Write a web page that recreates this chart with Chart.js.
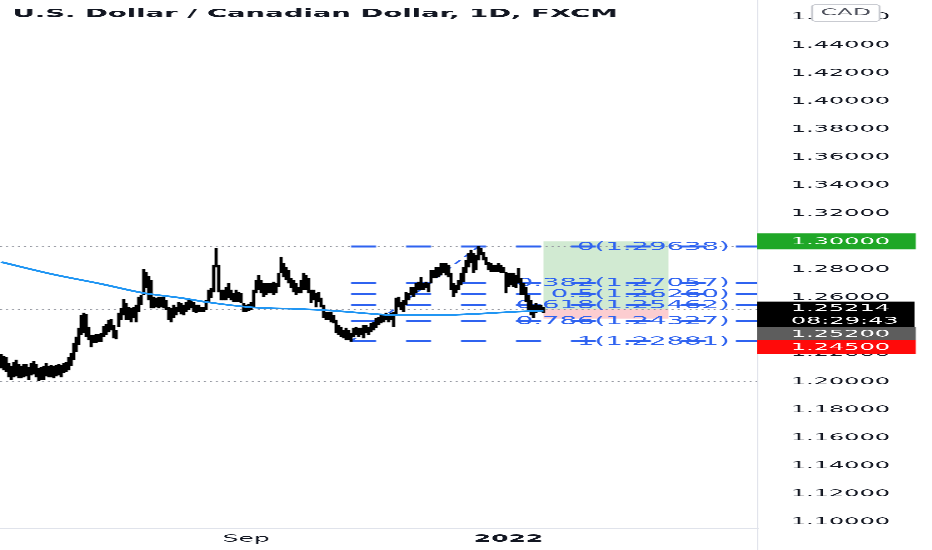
<!DOCTYPE html>
<html>
<head>
<meta charset="utf-8">
<script src="https://cdn.jsdelivr.net/npm/chart.js@4.4.1/dist/chart.umd.min.js"></script>
<style>
html, body { margin: 0; padding: 0; background: #fff; overflow: hidden; width: 932px; height: 550px; }
#chart { display: block; transform: scaleX(2.4987); transform-origin: 0 0; }
</style>
</head>
<body>
<canvas id="chart" width="373" height="550"></canvas>
<script>
// daily bars, USDCAD (FXCM)
var highs = [
  1.2197, 1.2183, 1.2176, 1.2133, 1.2112, 1.2140, 1.2155, 1.2126, 1.2112, 1.2126,
  1.2126, 1.2104, 1.2133, 1.2147, 1.2126, 1.2097, 1.2104, 1.2112, 1.2133, 1.2112,
  1.2119, 1.2112, 1.2119, 1.2126, 1.2119, 1.2133, 1.2140, 1.2176, 1.2204, 1.2276,
  1.2319, 1.2383, 1.2475, 1.2490, 1.2482, 1.2390, 1.2333, 1.2333, 1.2340, 1.2340,
  1.2347, 1.2397, 1.2411, 1.2440, 1.2447, 1.2404, 1.2368, 1.2490, 1.2525, 1.2589,
  1.2561, 1.2532, 1.2525, 1.2532, 1.2547, 1.2604, 1.2618, 1.2803, 1.2782, 1.2753,
  1.2725, 1.2604, 1.2597, 1.2604, 1.2604, 1.2604, 1.2582, 1.2532, 1.2525, 1.2547,
  1.2532, 1.2568, 1.2561, 1.2547, 1.2568, 1.2582, 1.2582, 1.2568, 1.2547, 1.2547,
  1.2532, 1.2532, 1.2582, 1.2654, 1.2668, 1.2832, 1.2953, 1.2832, 1.2654, 1.2654,
  1.2675, 1.2703, 1.2654, 1.2632, 1.2654, 1.2639, 1.2632, 1.2561, 1.2547, 1.2554,
  1.2568, 1.2654, 1.2725, 1.2760, 1.2725, 1.2703, 1.2703, 1.2703, 1.2703, 1.2711,
  1.2703, 1.2775, 1.2889, 1.2846, 1.2817, 1.2796, 1.2739, 1.2725, 1.2703, 1.2675,
  1.2725, 1.2775, 1.2760, 1.2739, 1.2654, 1.2654, 1.2632, 1.2639, 1.2597, 1.2547,
  1.2497, 1.2497, 1.2497, 1.2475, 1.2440, 1.2404, 1.2390, 1.2368, 1.2383, 1.2368,
  1.2347, 1.2383, 1.2390, 1.2383, 1.2383, 1.2404, 1.2404, 1.2390, 1.2418, 1.2425,
  1.2454, 1.2461, 1.2475, 1.2475, 1.2490, 1.2475, 1.2490, 1.2497, 1.2597, 1.2604,
  1.2568, 1.2582, 1.2639, 1.2632, 1.2675, 1.2675, 1.2703, 1.2711, 1.2746, 1.2703,
  1.2711, 1.2703, 1.2796, 1.2796, 1.2817, 1.2817, 1.2846, 1.2846, 1.2846, 1.2832,
  1.2775, 1.2703, 1.2689, 1.2725, 1.2775, 1.2817, 1.2867, 1.2917, 1.2939, 1.2917,
  1.2903, 1.2964, 1.2953, 1.2924, 1.2889, 1.2853, 1.2846, 1.2832, 1.2832, 1.2846,
  1.2832, 1.2817, 1.2782, 1.2775, 1.2775, 1.2775, 1.2760, 1.2810, 1.2739, 1.2703,
  1.2675, 1.2618, 1.2582, 1.2547, 1.2561, 1.2547, 1.2547, 1.2532
];
var lows = [
  1.2097, 1.2083, 1.2069, 1.2033, 1.2012, 1.2033, 1.2040, 1.2026, 1.2026, 1.2033,
  1.2040, 1.2012, 1.2047, 1.2054, 1.2033, 1.2005, 1.2012, 1.2012, 1.2040, 1.2033,
  1.2033, 1.2026, 1.2040, 1.2047, 1.2033, 1.2062, 1.2069, 1.2083, 1.2112, 1.2155,
  1.2212, 1.2262, 1.2333, 1.2347, 1.2319, 1.2297, 1.2247, 1.2276, 1.2276, 1.2283,
  1.2283, 1.2319, 1.2333, 1.2354, 1.2368, 1.2311, 1.2304, 1.2390, 1.2440, 1.2475,
  1.2440, 1.2440, 1.2425, 1.2454, 1.2425, 1.2497, 1.2547, 1.2618, 1.2668, 1.2582,
  1.2525, 1.2525, 1.2532, 1.2525, 1.2532, 1.2525, 1.2511, 1.2440, 1.2425, 1.2454,
  1.2475, 1.2497, 1.2482, 1.2475, 1.2497, 1.2511, 1.2525, 1.2497, 1.2490, 1.2497,
  1.2497, 1.2497, 1.2511, 1.2568, 1.2597, 1.2639, 1.2817, 1.2639, 1.2582, 1.2582,
  1.2582, 1.2597, 1.2582, 1.2568, 1.2568, 1.2568, 1.2561, 1.2497, 1.2497, 1.2504,
  1.2511, 1.2532, 1.2632, 1.2654, 1.2632, 1.2604, 1.2618, 1.2632, 1.2632, 1.2618,
  1.2632, 1.2675, 1.2775, 1.2746, 1.2725, 1.2703, 1.2668, 1.2639, 1.2618, 1.2632,
  1.2632, 1.2654, 1.2654, 1.2632, 1.2561, 1.2582, 1.2532, 1.2568, 1.2532, 1.2454,
  1.2440, 1.2440, 1.2425, 1.2418, 1.2347, 1.2333, 1.2319, 1.2311, 1.2297, 1.2297,
  1.2288, 1.2319, 1.2333, 1.2319, 1.2333, 1.2311, 1.2347, 1.2333, 1.2354, 1.2368,
  1.2383, 1.2404, 1.2418, 1.2425, 1.2440, 1.2425, 1.2440, 1.2390, 1.2475, 1.2532,
  1.2511, 1.2497, 1.2547, 1.2582, 1.2618, 1.2604, 1.2632, 1.2654, 1.2654, 1.2654,
  1.2668, 1.2639, 1.2703, 1.2739, 1.2739, 1.2746, 1.2760, 1.2775, 1.2760, 1.2746,
  1.2654, 1.2604, 1.2632, 1.2654, 1.2689, 1.2711, 1.2775, 1.2817, 1.2846, 1.2775,
  1.2796, 1.2867, 1.2903, 1.2867, 1.2832, 1.2796, 1.2782, 1.2782, 1.2782, 1.2782,
  1.2775, 1.2775, 1.2632, 1.2675, 1.2689, 1.2675, 1.2668, 1.2703, 1.2618, 1.2618,
  1.2568, 1.2511, 1.2475, 1.2454, 1.2490, 1.2497, 1.2497, 1.2490
];

// moving average, a few points (bar index / price)
var maIndex = [0, 20, 40, 57, 72, 82, 101, 120, 132, 144, 158, 176, 188, 204, 217];
var maValue = [1.2853, 1.2768, 1.2697, 1.2632, 1.2597, 1.2568, 1.2529, 1.2518, 1.2507, 1.2490, 1.2475, 1.2475, 1.2482, 1.2497, 1.2507];

// time axis: bar slots incl. empty space on the right, and the two labels
var slotCount = 303;
var tickIndex = [98, 203];
var tickText = ['Sep', '2022'];

// fib retracement
var fibRatios = ['0', '0.382', '0.5', '0.618', '0.786', '1'];
var fibPrices = [1.29638, 1.27057, 1.26260, 1.25462, 1.24327, 1.22881];
var fibFrom = 140, fibTo = 191;

// long position tool
var posFrom = 217, posTo = 267;
var posEntry = 1.252, posTarget = 1.30, posStop = 1.245;

// dotted horizontal lines
var hLines = [1.2966, 1.25214, 1.2005];

var lastPrice = 1.25214;
var countdown = '08:29:43';

var yMin = 1.0957, yMax = 1.4721;

var slots = [];
for (var i = 0; i < slotCount; i++) slots.push(i);

var bars = highs.map(function (h, i) { return [lows[i], h]; });
var maData = slots.map(function () { return null; });
maIndex.forEach(function (k, j) { maData[k] = maValue[j]; });

var FONT = '"DejaVu Sans", "Liberation Sans", sans-serif';
var BLUE = '#2f63f0';

function hline(ctx, x0, x1, y) {
  ctx.beginPath();
  ctx.moveTo(x0, y);
  ctx.lineTo(x1, y);
  ctx.stroke();
}

function tag(ctx, left, top, w, h, bg, lines) {
  ctx.fillStyle = bg;
  ctx.fillRect(left, top, w, h);
  ctx.fillStyle = '#fff';
  ctx.font = '9.6px ' + FONT;
  ctx.textAlign = 'left';
  ctx.textBaseline = 'middle';
  var lh = h / lines.length;
  lines.forEach(function (t, k) {
    ctx.fillText(t, left + 13.5, top + lh * k + lh / 2 + 0.5);
  });
}

var drawings = {
  id: 'drawings',
  beforeDatasetsDraw: function (chart) {
    var ctx = chart.ctx, a = chart.chartArea, x = chart.scales.x, y = chart.scales.y;
    ctx.save();

    // position box
    var px0 = x.getPixelForValue(posFrom), px1 = x.getPixelForValue(posTo);
    var yT = y.getPixelForValue(posTarget), yE = y.getPixelForValue(posEntry), yS = y.getPixelForValue(posStop);
    ctx.fillStyle = 'rgba(76,175,80,0.26)';
    ctx.fillRect(px0, yT, px1 - px0, yE - yT);
    ctx.fillStyle = 'rgba(242,54,69,0.25)';
    ctx.fillRect(px0, yE, px1 - px0, yS - yE);

    // dotted lines
    ctx.strokeStyle = '#9598a1';
    ctx.lineWidth = 1;
    ctx.setLineDash([0.8, 1.6]);
    hLines.forEach(function (p) { hline(ctx, a.left, a.right, Math.round(y.getPixelForValue(p)) + 0.5); });

    // fib levels
    var fx = x.getPixelForValue(fibFrom);
    ctx.strokeStyle = BLUE;
    ctx.lineWidth = 2;
    ctx.setLineDash([10, 12]);
    fibPrices.forEach(function (p) { hline(ctx, fx, a.right, y.getPixelForValue(p)); });

    // trend line low -> high
    ctx.lineWidth = 1;
    ctx.setLineDash([4, 4]);
    ctx.beginPath();
    ctx.moveTo(fx, y.getPixelForValue(fibPrices[5]));
    ctx.lineTo(x.getPixelForValue(fibTo), y.getPixelForValue(fibPrices[0]));
    ctx.stroke();
    ctx.setLineDash([]);

    ctx.fillStyle = BLUE;
    ctx.font = '11px ' + FONT;
    ctx.textAlign = 'right';
    ctx.textBaseline = 'middle';
    fibPrices.forEach(function (p, k) {
      ctx.fillText(fibRatios[k] + '(' + p.toFixed(5) + ')', a.right - 11, y.getPixelForValue(p) + 0.5);
    });
    ctx.restore();
  },
  afterDraw: function (chart) {
    var ctx = chart.ctx, a = chart.chartArea, y = chart.scales.y;
    ctx.save();

    // separator between plot and price scale
    ctx.strokeStyle = '#e0e3eb';
    ctx.lineWidth = 0.4;
    ctx.beginPath();
    ctx.moveTo(a.right + 0.2, 0);
    ctx.lineTo(a.right + 0.2, chart.height);
    ctx.stroke();

    // price tags on the axis
    var w = 64.5;
    var yl = y.getPixelForValue(lastPrice);
    tag(ctx, a.right, y.getPixelForValue(posTarget) - 8, w - 1, 16, '#1fa727', [posTarget.toFixed(5)]);
    tag(ctx, a.right, yl + 18.5, w - 1, 13, '#5d5d5d', [posEntry.toFixed(5)]);
    tag(ctx, a.right, yl - 7, w - 1.5, 25.5, '#000', [lastPrice.toFixed(5), countdown]);
    tag(ctx, a.right, yl + 31.5, w - 1, 14, '#ff0a0a', [posStop.toFixed(5)]);

    // currency button
    ctx.fillStyle = '#fff';
    ctx.strokeStyle = '#c9cbd1';
    ctx.lineWidth = 0.8;
    ctx.beginPath();
    ctx.roundRect(a.right + 22, 4.5, 27, 17, 2);
    ctx.fill();
    ctx.stroke();
    ctx.fillStyle = '#50535e';
    ctx.font = '9.4px ' + FONT;
    ctx.textAlign = 'center';
    ctx.textBaseline = 'middle';
    ctx.fillText('CAD', a.right + 35.5, 13);

    // title
    ctx.fillStyle = '#131722';
    ctx.font = 'bold 11px ' + FONT;
    ctx.textAlign = 'left';
    ctx.textBaseline = 'alphabetic';
    ctx.fillText('U.S. Dollar / Canadian Dollar, 1D, FXCM', 5, 17);
    ctx.restore();
  }
};

new Chart(document.getElementById('chart'), {
  type: 'bar',
  data: {
    labels: slots,
    datasets: [
      {
        type: 'line',
        data: maData,
        borderColor: '#2196f3',
        borderWidth: 1.8,
        pointRadius: 0,
        spanGaps: true,
        cubicInterpolationMode: 'monotone',
        order: 0
      },
      {
        data: bars,
        backgroundColor: '#000',
        barThickness: 0.6,
        order: 1
      }
    ]
  },
  options: {
    responsive: false,
    devicePixelRatio: 3,
    animation: false,
    events: [],
    layout: { padding: 0, autoPadding: false },
    plugins: { legend: { display: false }, tooltip: { enabled: false } },
    scales: {
      x: {
        grid: { display: false, drawTicks: false },
        border: { display: true, color: '#e0e3eb', width: 1 },
        afterFit: function (s) { s.height = 22; s.paddingLeft = 0; s.paddingRight = 0; },
        ticks: {
          autoSkip: false,
          maxRotation: 0,
          padding: 5,
          color: '#131722',
          font: function (c) {
            return { family: FONT, size: 10, weight: c.tick && c.tick.label === tickText[1] ? 'bold' : 'normal' };
          },
          callback: function (v, i) {
            var k = tickIndex.indexOf(i);
            return k < 0 ? null : tickText[k];
          }
        }
      },
      y: {
        position: 'right',
        min: yMin,
        max: yMax,
        grid: { display: false, drawTicks: false },
        border: { display: false },
        afterFit: function (s) { s.width = 70; s.paddingTop = 0; s.paddingBottom = 0; },
        ticks: {
          stepSize: 0.02,
          includeBounds: false,
          padding: 13.5,
          color: '#131722',
          font: { family: FONT, size: 9.6 },
          callback: function (v) { return v.toFixed(5); }
        }
      }
    }
  },
  plugins: [drawings]
});
</script>
</body>
</html>
